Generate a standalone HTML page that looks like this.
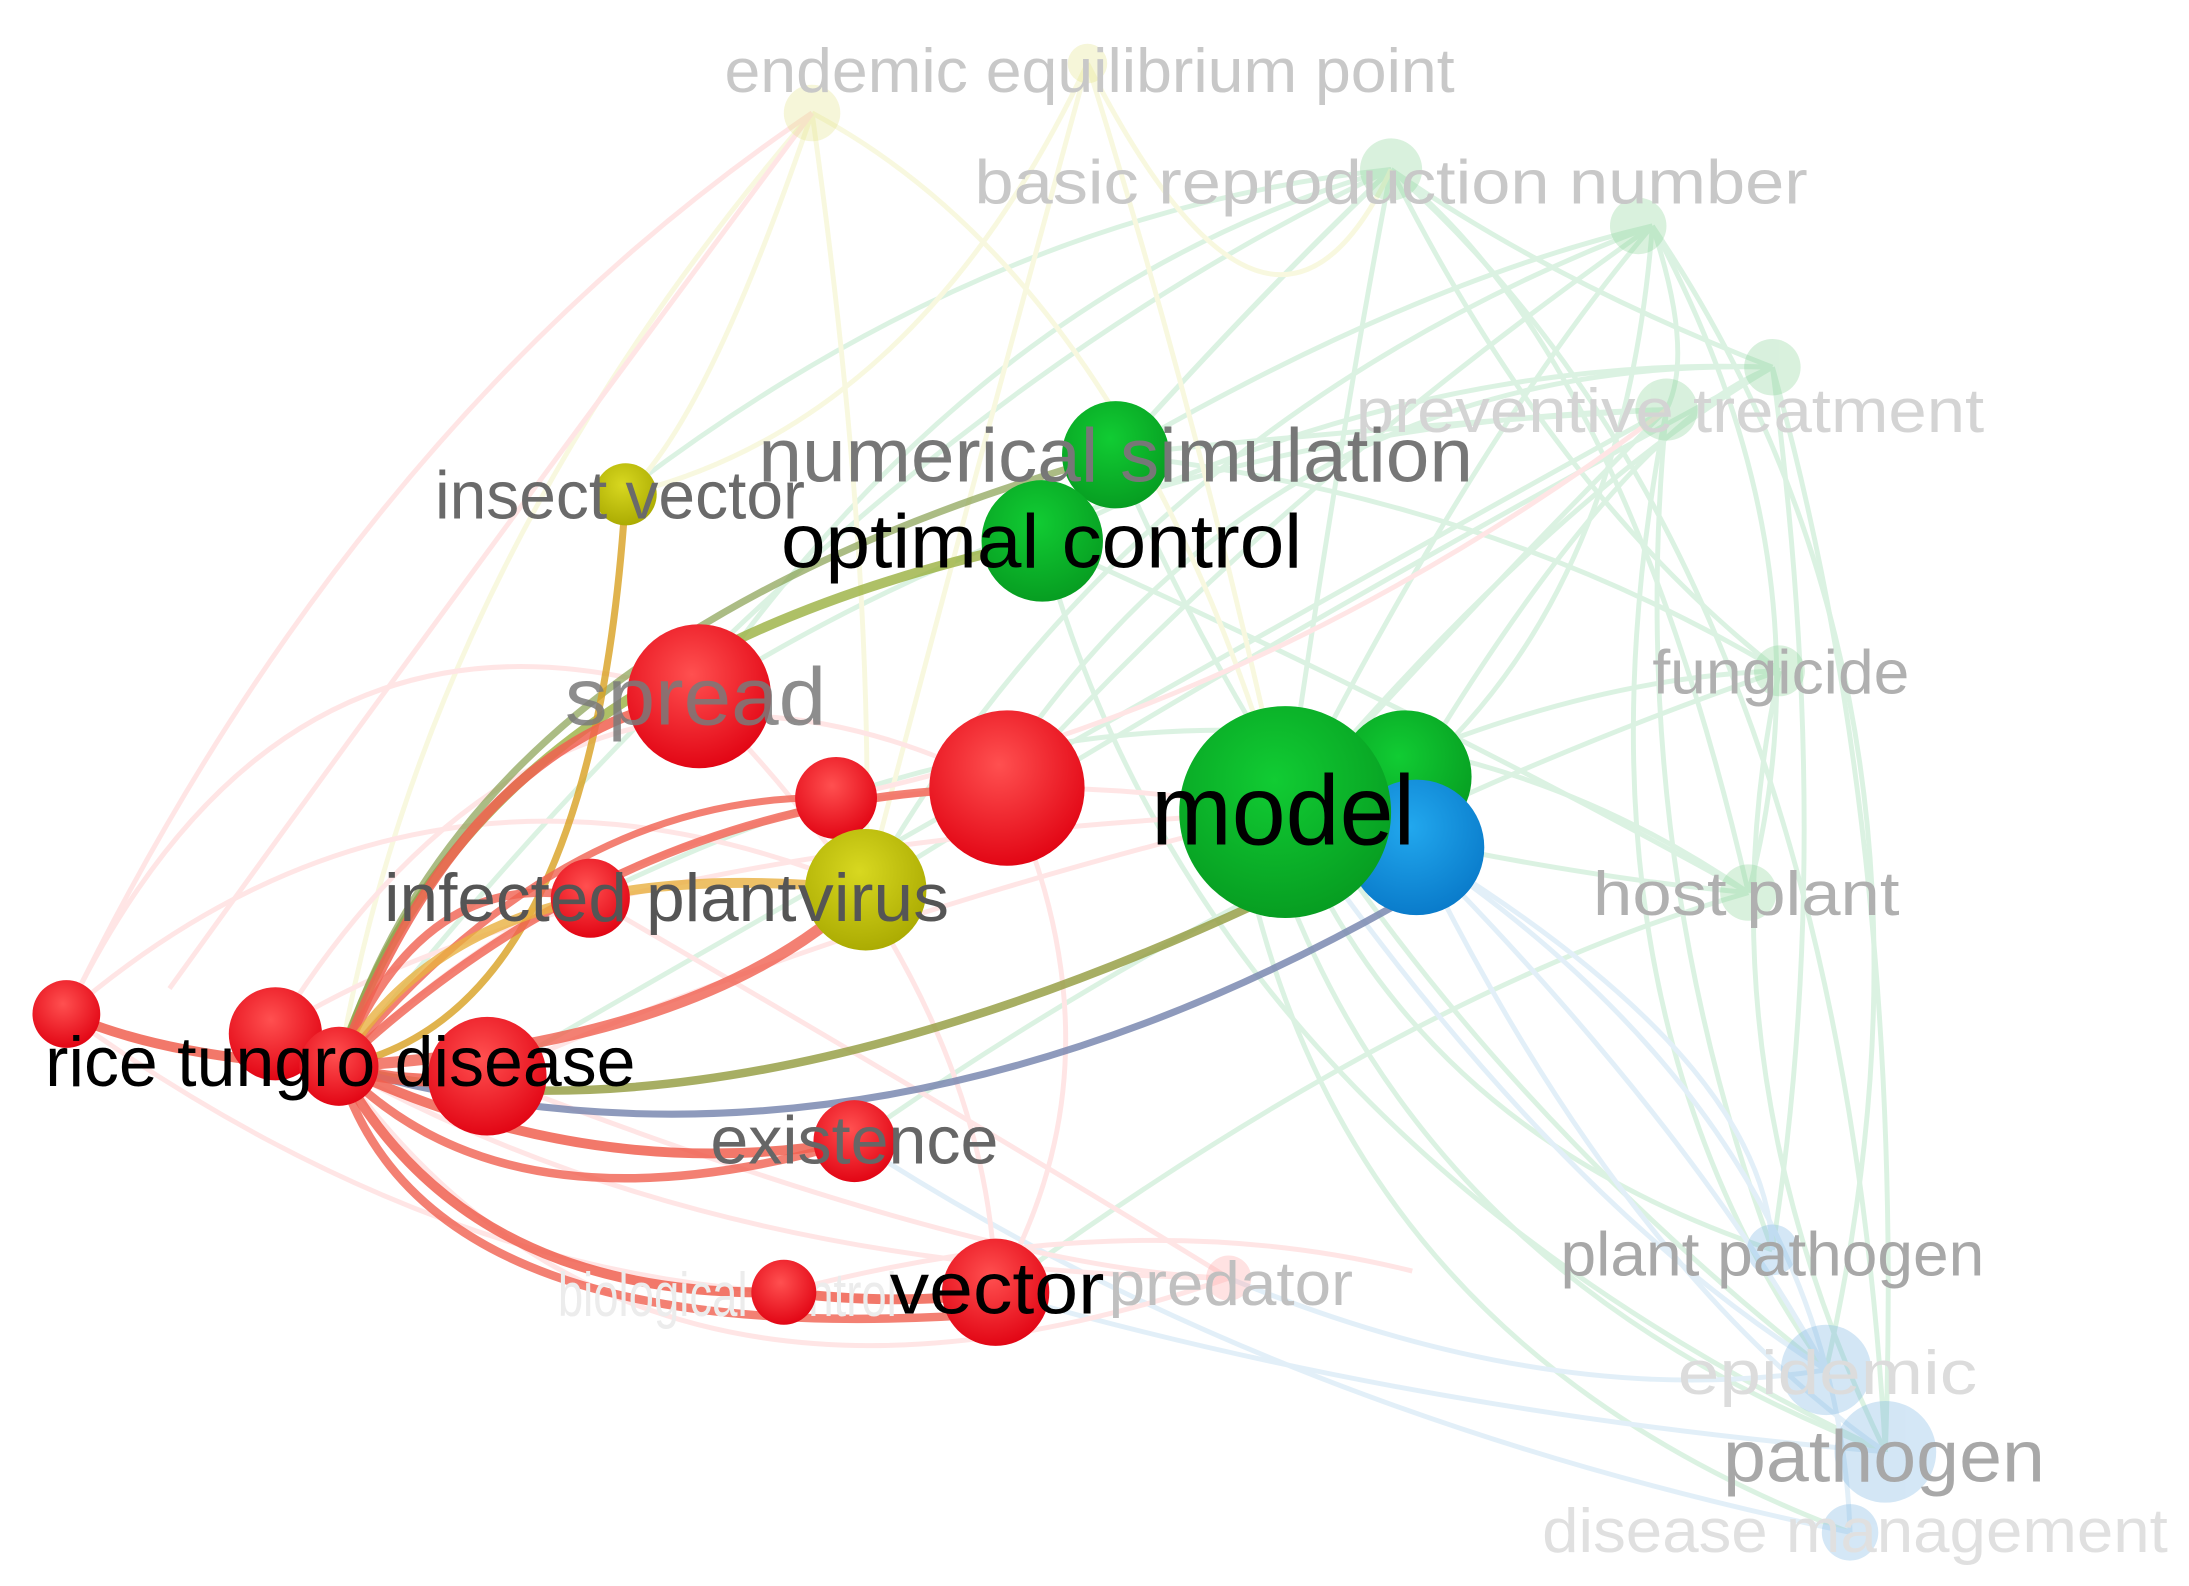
<!DOCTYPE html>
<html><head><meta charset="utf-8"><style>
html,body{margin:0;padding:0;background:#fff;}
svg{display:block;}
text{font-family:"Liberation Sans",Arial,sans-serif;}
</style></head><body>
<svg width="2189" height="1586" viewBox="0 0 1550 1123" preserveAspectRatio="none" xmlns="http://www.w3.org/2000/svg">
<defs>
<radialGradient id="gR" cx="0.45" cy="0.35" r="0.7"><stop offset="0" stop-color="#ff5050"/><stop offset="1" stop-color="#e00010"/></radialGradient>
<radialGradient id="gG" cx="0.45" cy="0.35" r="0.7"><stop offset="0" stop-color="#11cc33"/><stop offset="1" stop-color="#069a20"/></radialGradient>
<radialGradient id="gB" cx="0.45" cy="0.35" r="0.7"><stop offset="0" stop-color="#22a8ee"/><stop offset="1" stop-color="#0878c8"/></radialGradient>
<radialGradient id="gY" cx="0.45" cy="0.35" r="0.7"><stop offset="0" stop-color="#d8d820"/><stop offset="1" stop-color="#a8a800"/></radialGradient>
</defs>

<g fill="none" stroke-width="3.5" opacity="0.4">
<g stroke="#a8e0b8">
<path d="M910 575 Q950 300 985 120"/><path d="M910 575 Q1050 300 1170 160"/><path d="M910 575 Q1100 350 1255 260"/>
<path d="M910 575 Q1050 420 1180 290"/><path d="M910 575 Q1100 480 1260 475"/><path d="M910 575 Q1100 620 1238 632"/>
<path d="M790 322 Q900 200 985 120"/><path d="M790 322 Q1000 200 1170 160"/><path d="M738 383 Q1000 250 1255 260"/>
<path d="M985 120 Q1150 250 1238 632"/><path d="M1170 160 Q1300 400 1238 632"/><path d="M1255 260 Q1300 600 1255 885"/>
<path d="M1180 290 Q1100 700 1293 970"/><path d="M1260 475 Q1200 750 1335 1028"/><path d="M900 600 Q1000 900 1335 1028"/>
<path d="M880 600 Q950 950 1310 1085"/><path d="M985 120 Q1300 400 1335 1028"/><path d="M1170 160 Q1400 500 1293 970"/>
<path d="M495 493 Q700 200 985 120"/><path d="M613 630 Q800 300 1170 160"/><path d="M240 755 Q600 300 985 120"/>
<path d="M700 560 Q900 250 1255 260"/><path d="M418 636 Q900 400 1238 632"/><path d="M605 808 Q900 600 1260 475"/>
<path d="M705 915 Q1000 700 1238 632"/><path d="M345 762 Q800 500 1180 290"/>
<path d="M738 383 Q850 250 985 120"/><path d="M790 322 Q1000 300 1180 290"/><path d="M790 322 Q1050 350 1260 475"/>
<path d="M738 383 Q1000 500 1238 632"/><path d="M985 120 Q1100 200 1255 260"/><path d="M1170 160 Q1200 250 1180 290"/>
<path d="M985 120 Q1100 350 1260 475"/><path d="M1255 260 Q1350 600 1335 1028"/><path d="M1180 290 Q1150 600 1255 885"/>
<path d="M910 575 Q1000 800 1255 885"/><path d="M790 322 Q950 700 1293 970"/><path d="M738 383 Q850 800 1335 1028"/>
<path d="M613 630 Q900 450 1255 260"/><path d="M495 493 Q800 300 1180 290"/><path d="M713 558 Q900 350 1170 160"/>
<path d="M440 350 Q700 150 985 120"/><path d="M1000 550 Q1150 300 1255 260"/><path d="M1000 550 Q1150 420 1170 160"/>
</g>
<g stroke="#b8d8f0">
<path d="M1003 600 Q1200 800 1293 970"/><path d="M1003 600 Q1150 900 1335 1028"/><path d="M1003 600 Q1250 750 1255 885"/>
<path d="M705 915 Q1000 1000 1335 1028"/><path d="M605 808 Q900 1000 1310 1085"/><path d="M870 905 Q1100 1000 1293 970"/>
<path d="M1003 600 Q1300 800 1310 1085"/><path d="M910 575 Q1100 850 1293 970"/>
</g>
<g stroke="#f0f0b0">
<path d="M575 80 Q500 300 443 350"/><path d="M575 80 Q620 400 613 630"/><path d="M770 45 Q700 300 613 630"/>
<path d="M575 80 Q800 200 910 575"/><path d="M770 45 Q900 300 985 120"/><path d="M575 80 Q300 400 240 755"/>
<path d="M770 45 Q650 300 443 350"/><path d="M770 45 Q850 300 910 575"/>
</g>
<g stroke="#ffc0c0">
<path d="M47 718 Q200 400 495 493"/><path d="M47 718 Q300 900 555 915"/><path d="M195 730 Q400 400 713 558"/>
<path d="M240 755 Q500 900 870 905"/><path d="M345 762 Q700 900 870 905"/><path d="M418 636 Q700 800 870 905"/>
<path d="M495 493 Q700 700 705 915"/><path d="M713 558 Q800 750 705 915"/><path d="M240 755 Q500 500 910 575"/>
<path d="M47 718 Q300 500 613 630"/><path d="M555 915 Q800 850 1000 900"/><path d="M240 755 Q450 1050 870 905"/>
<path d="M592 565 Q900 500 1180 290"/><path d="M120 700 Q300 450 575 80"/>
<path d="M47 718 Q250 300 575 80"/><path d="M195 730 Q400 600 910 575"/><path d="M345 762 Q600 650 910 575"/>
</g>
</g>

<g fill="none" stroke-linecap="round">
<path d="M240 755 Q330 470 738 383" stroke="#9ab040" stroke-width="7" opacity="0.8"/>
<path d="M240 755 Q330 450 790 322" stroke="#88a050" stroke-width="5" opacity="0.7"/>
<path d="M240 755 Q420 720 443 350" stroke="#d8a020" stroke-width="5" opacity="0.8"/>
<path d="M240 755 Q330 520 495 493" stroke="#f06050" stroke-width="7" opacity="0.85"/>
<path d="M240 755 Q400 560 592 565" stroke="#f06050" stroke-width="5" opacity="0.8"/>
<path d="M240 755 Q450 560 713 558" stroke="#f06050" stroke-width="6" opacity="0.8"/>
<path d="M240 755 Q300 610 418 636" stroke="#f06050" stroke-width="6" opacity="0.8"/>
<path d="M240 755 Q330 600 613 630" stroke="#e8b040" stroke-width="7" opacity="0.8"/>
<path d="M240 755 Q500 740 613 630" stroke="#f06050" stroke-width="8" opacity="0.8"/>
<path d="M240 755 Q500 820 890 640" stroke="#98a048" stroke-width="6" opacity="0.85"/>
<path d="M240 755 Q600 860 990 640" stroke="#7a88b0" stroke-width="5" opacity="0.85"/>
<path d="M240 755 Q420 840 605 808" stroke="#f06050" stroke-width="7" opacity="0.85"/>
<path d="M240 755 Q360 880 605 808" stroke="#f06050" stroke-width="6" opacity="0.8"/>
<path d="M240 755 Q330 920 555 915" stroke="#f06050" stroke-width="7" opacity="0.85"/>
<path d="M555 915 Q640 925 705 915" stroke="#f06050" stroke-width="7" opacity="0.85"/>
<path d="M240 755 Q300 960 705 930" stroke="#f06050" stroke-width="6" opacity="0.8"/>
<path d="M47 718 Q120 750 240 755" stroke="#f06050" stroke-width="7" opacity="0.85"/>
<path d="M240 755 Q290 770 345 762" stroke="#f06050" stroke-width="9" opacity="0.85"/>
</g>

<g opacity="0.3">
<circle cx="575" cy="80" r="20" fill="#e0e080"/><circle cx="770" cy="45" r="14" fill="#e0e080"/>
<circle cx="985" cy="120" r="22" fill="#80d090"/><circle cx="1160" cy="160" r="20" fill="#80d090"/>
<circle cx="1180" cy="290" r="22" fill="#80d090"/><circle cx="1255" cy="260" r="20" fill="#80d090"/>
<circle cx="1260" cy="475" r="18" fill="#80d090"/><circle cx="1238" cy="632" r="20" fill="#80d090"/>
<circle cx="870" cy="905" r="16" fill="#ffa0a0"/>
<circle cx="1255" cy="885" r="18" fill="#70b0e0"/><circle cx="1293" cy="970" r="32" fill="#70b0e0"/>
<circle cx="1335" cy="1028" r="36" fill="#70b0e0"/><circle cx="1310" cy="1085" r="20" fill="#70b0e0"/>
</g>

<g fill="#c8c8c8" font-size="44">
<text x="513" y="65" textLength="517" lengthAdjust="spacingAndGlyphs">endemic equilibrium point</text>
<text x="690" y="144" textLength="590" lengthAdjust="spacingAndGlyphs">basic reproduction number</text>
<text x="960" y="306" textLength="445" lengthAdjust="spacingAndGlyphs" fill="#d4d4d4">preventive treatment</text>
<text x="1170" y="491" textLength="182" lengthAdjust="spacingAndGlyphs" fill="#b0b0b0">fungicide</text>
<text x="1128" y="648" textLength="217" lengthAdjust="spacingAndGlyphs" fill="#b0b0b0">host plant</text>
<text x="1105" y="903" textLength="300" lengthAdjust="spacingAndGlyphs" fill="#a8a8a8">plant pathogen</text>
<text x="1188" y="987" textLength="212" lengthAdjust="spacingAndGlyphs" fill="#dcdcdc">epidemic</text>
<text x="1220" y="1049" font-size="52" textLength="228" lengthAdjust="spacingAndGlyphs" fill="#a8a8a8">pathogen</text>
<text x="1092" y="1099" textLength="443" lengthAdjust="spacingAndGlyphs" fill="#e0e0e0">disease management</text>
<text x="395" y="932" textLength="240" lengthAdjust="spacingAndGlyphs" fill="#ececec">biological control</text>
<text x="785" y="924" textLength="173" lengthAdjust="spacingAndGlyphs" fill="#c0c0c0">predator</text>
</g>

<circle cx="443" cy="350" r="22" fill="url(#gY)"/>
<circle cx="790" cy="322" r="38" fill="url(#gG)"/>
<circle cx="738" cy="383" r="43" fill="url(#gG)"/>
<circle cx="495" cy="493" r="51" fill="url(#gR)"/>
<circle cx="713" cy="558" r="55" fill="url(#gR)"/>
<circle cx="592" cy="565" r="29" fill="url(#gR)"/>
<circle cx="995" cy="550" r="47" fill="url(#gG)"/>
<circle cx="1003" cy="600" r="48" fill="url(#gB)"/>
<circle cx="910" cy="575" r="75" fill="url(#gG)"/>
<circle cx="418" cy="636" r="28" fill="url(#gR)"/>
<circle cx="613" cy="630" r="43" fill="url(#gY)"/>
<circle cx="47" cy="718" r="24" fill="url(#gR)"/>
<circle cx="195" cy="732" r="33" fill="url(#gR)"/>
<circle cx="240" cy="755" r="28" fill="url(#gR)"/>
<circle cx="345" cy="762" r="42" fill="url(#gR)"/>
<circle cx="605" cy="808" r="29" fill="url(#gR)"/>
<circle cx="555" cy="915" r="23" fill="url(#gR)"/>
<circle cx="705" cy="915" r="38" fill="url(#gR)"/>

<g font-size="48">
<text x="308" y="367" textLength="262" lengthAdjust="spacingAndGlyphs" fill="#6a6a6a">insect vector</text>
<text x="537" y="341" font-size="54" textLength="506" lengthAdjust="spacingAndGlyphs" fill="#777">numerical simulation</text>
<text x="553" y="402" font-size="54" textLength="369" lengthAdjust="spacingAndGlyphs" fill="#000">optimal control</text>
<text x="400" y="513" font-size="58" textLength="185" lengthAdjust="spacingAndGlyphs" fill="#7a7a7a" opacity="0.85">spread</text>
<text x="815" y="598" font-size="70" textLength="187" lengthAdjust="spacingAndGlyphs" fill="#000">model</text>
<text x="272" y="652" textLength="292" lengthAdjust="spacingAndGlyphs" fill="#555">infected plant</text>
<text x="565" y="652" textLength="107" lengthAdjust="spacingAndGlyphs" fill="#555">virus</text>
<text x="32" y="769" font-size="50" textLength="418" lengthAdjust="spacingAndGlyphs" fill="#000">rice tungro disease</text>
<text x="503" y="824" textLength="204" lengthAdjust="spacingAndGlyphs" fill="#666">existence</text>
<text x="630" y="930" font-size="52" textLength="152" lengthAdjust="spacingAndGlyphs" fill="#000">vector</text>
</g>
</svg>
</body></html>
